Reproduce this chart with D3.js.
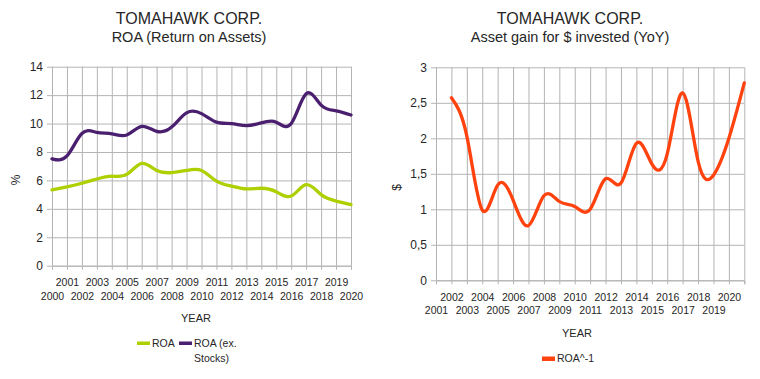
<!DOCTYPE html>
<html><head><meta charset="utf-8">
<script src="https://cdn.jsdelivr.net/npm/d3@7"></script>
<style>
body{margin:0;background:#fff;}
svg{display:block;font-family:"Liberation Sans",Arial,sans-serif;}
</style>
</head><body>
<svg id="c" width="760" height="379"></svg>
<script>
// ---------- data ----------
const leftYears = ["2000","2001","2002","2003","2004","2005","2006","2007","2008","2009","2010",
                   "2011","2012","2013","2014","2015","2016","2017","2018","2019","2020"];
const roa =        [5.33, 5.55, 5.8, 6.1, 6.3, 6.42, 7.2, 6.7, 6.55, 6.7, 6.7,
                    5.95, 5.6, 5.4, 5.45, 5.2, 4.9, 5.7, 5.0, 4.55, 4.3];
const roaExStocks = [7.52, 7.72, 9.3, 9.38, 9.28, 9.2, 9.8, 9.45, 9.75, 10.75, 10.7,
                     10.1, 10.0, 9.85, 10.05, 10.1, 10.0, 12.1, 11.3, 10.9, 10.6];
const leftYTicks = [0, 2, 4, 6, 8, 10, 12, 14];

const rightYears = ["2001","2002","2003","2004","2005","2006","2007","2008","2009","2010","2011",
                    "2012","2013","2014","2015","2016","2017","2018","2019","2020","2021"];
const rightTickLabels = ["2001","2002","2003","2004","2005","2006","2007","2008","2009","2010","2011",
                         "2012","2013","2014","2015","2016","2017","2018","2019","2020",""];
const roaInverse = [null, 2.57, 2.03, 0.99, 1.34, 1.13, 0.77, 1.19, 1.11, 1.04, 1.0,
                    1.43, 1.37, 1.93, 1.64, 1.78, 2.64, 1.68, 1.48, 2.0, 2.78];
const rightYTicks = [0, 0.5, 1, 1.5, 2, 2.5, 3];

// ---------- drawing ----------
const svg = d3.select("#c");
const textColor = "#262626";
const gridColor = "#b4b4b4";

function panel(o) {
  const g = svg.append("g");
  const x = d3.scalePoint().domain(o.cats).range([o.left, o.right]).padding(0);
  const y = d3.scaleLinear().domain(o.yDomain).range([o.bottom, o.top]);

  // horizontal grid + y axis
  const yAxis = d3.axisLeft(y).tickValues(o.yTicks).tickSize(5).tickPadding(4)
    .tickFormat(o.yFormat);
  const ya = g.append("g").attr("transform", `translate(${o.left},0)`).call(yAxis);
  ya.select(".domain").remove();
  ya.selectAll(".tick line").attr("stroke", gridColor);
  ya.selectAll(".tick text").attr("fill", textColor).style("font-size", "12px")
    .style("font-family", '"Liberation Sans",Arial,sans-serif');
  const hg = g.append("g").attr("transform", `translate(${o.left},0)`)
    .call(d3.axisLeft(y).tickValues(o.yTicks).tickSize(-(o.right - o.left)).tickFormat(""));
  hg.select(".domain").remove();
  hg.selectAll(".tick line").attr("stroke", gridColor);

  // vertical grid + x axis
  const vg = g.append("g").attr("transform", `translate(0,${o.bottom})`)
    .call(d3.axisBottom(x).tickSize(-(o.bottom - o.top)).tickFormat(""));
  vg.select(".domain").remove();
  vg.selectAll(".tick line").attr("stroke", gridColor);

  const xAxis = d3.axisBottom(x).tickSize(4).tickFormat((d, i) => o.tickLabels[i]);
  const xa = g.append("g").attr("transform", `translate(0,${o.bottom})`).call(xAxis);
  xa.select(".domain").attr("stroke", gridColor);
  xa.selectAll(".tick line").attr("stroke", gridColor);
  xa.selectAll(".tick text").attr("fill", textColor).style("font-size", "10.5px")
    .style("font-family", '"Liberation Sans",Arial,sans-serif')
    .attr("dy", null)
    .attr("y", (d, i) => (i % 2 === 0 ? 34 : 20.5));

  // series
  o.series.forEach(s => {
    const line = d3.line()
      .defined(d => d.v != null)
      .x(d => x(d.c)).y(d => y(d.v))
      .curve(d3.curveNatural);
    const pts = o.cats.map((c, i) => ({ c, v: s.values[i] })).filter(d => d.v != null);
    g.append("path").datum(pts).attr("d", line)
      .attr("fill", "none").attr("stroke", s.color).attr("stroke-width", 3.3)
      .attr("stroke-linejoin", "round").attr("stroke-linecap", "round");
  });

  // titles
  g.append("text").attr("x", o.titleX).attr("y", 23.5).attr("text-anchor", "middle")
    .attr("fill", textColor).style("font-size", "16px").text(o.title);
  g.append("text").attr("x", o.titleX).attr("y", 42).attr("text-anchor", "middle")
    .attr("fill", textColor).style("font-size", "14.5px").text(o.subtitle);

  // axis titles
  g.append("text").attr("x", o.xTitleX).attr("y", o.xTitleY).attr("text-anchor", "middle")
    .attr("fill", textColor).style("font-size", "11px").text("YEAR");
  g.append("text").attr("transform", `translate(${o.yTitleX},${o.yTitleY}) rotate(-90)`)
    .attr("text-anchor", "middle").attr("dy", "0.35em")
    .attr("fill", textColor).style("font-size", "12px").text(o.yTitle);

  // legend
  o.legend.forEach(l => {
    g.append("rect").attr("x", l.x).attr("y", l.y - 5.5).attr("width", 13).attr("height", l.h)
      .attr("fill", l.color);
    l.lines.forEach((t, k) => {
      g.append("text").attr("x", l.x + 15).attr("y", l.y + k * 14.5)
        .attr("fill", textColor).style("font-size", "10.5px").text(t);
    });
  });
}

panel({
  cats: leftYears, tickLabels: leftYears,
  left: 52, right: 351, top: 66.7, bottom: 265.7,
  yDomain: [0, 14], yTicks: leftYTicks, yFormat: d3.format("d"),
  series: [{ values: roa, color: "#aecf00" }, { values: roaExStocks, color: "#4b1f6f" }],
  title: "TOMAHAWK CORP.", subtitle: "ROA (Return on Assets)", titleX: 189,
  xTitleX: 196, xTitleY: 321.7, yTitle: "%", yTitleX: 16, yTitleY: 180,
  legend: [
    { x: 137, y: 347, h: 3.5, color: "#aecf00", lines: ["ROA"] },
    { x: 179, y: 347, h: 3.5, color: "#4b1f6f", lines: ["ROA (ex.", "Stocks)"] }
  ]
});

panel({
  cats: rightYears, tickLabels: rightTickLabels,
  left: 436, right: 744.3, top: 67.3, bottom: 280.3,
  yDomain: [0, 3], yTicks: rightYTicks, yFormat: d => String(d).replace(".", ","),
  series: [{ values: roaInverse, color: "#ff420e" }],
  title: "TOMAHAWK CORP.", subtitle: "Asset gain for $ invested (YoY)", titleX: 570,
  xTitleX: 577, xTitleY: 337, yTitle: "$", yTitleX: 397, yTitleY: 187.5,
  legend: [
    { x: 542, y: 362, h: 4.5, color: "#ff420e", lines: ["ROA^-1"] }
  ]
});
</script>
</body></html>
